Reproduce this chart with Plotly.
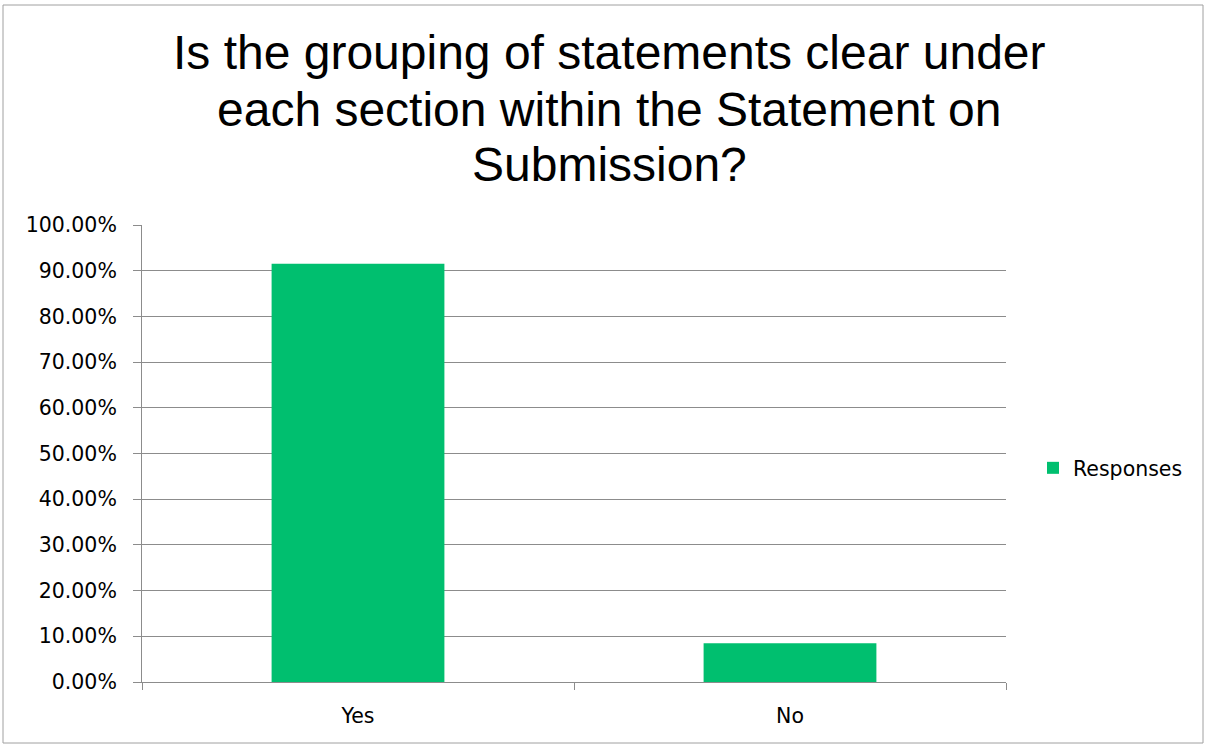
import plotly.graph_objects as go

# Survey answers and share of respondents
categories = ["Yes", "No"]
responses = [0.9153, 0.0847]
y_ticks = [0.0, 0.1, 0.2, 0.3, 0.4, 0.5, 0.6, 0.7, 0.8, 0.9, 1.0]

title_lines = [
    "Is the grouping of statements clear under",
    "each section within the Statement on",
    "Submission?",
]

W, H = 1205, 744
L, R, T, B = 142, 199, 225, 62
pw, ph = W - L - R, H - T - B


def px_x(x):
    return (x - L) / pw


def px_y(y):
    return (H - B - y) / ph


fig = go.Figure()
fig.add_trace(go.Bar(
    x=categories, y=responses, name="Responses",
    marker=dict(color="#00BF6F", line=dict(width=0)),
    width=0.4,
))

grid = "#8C8C8C"
tick_font = dict(family="DejaVu Sans, sans-serif", size=20.5, color="#000000")

# Title drawn line by line for tight line spacing
title_annotations = [
    dict(text=line, xref="paper", yref="paper",
         x=px_x(609), y=px_y(yc), xanchor="center", yanchor="middle",
         showarrow=False,
         font=dict(family="Liberation Sans, Arial, sans-serif", size=48, color="#000000"))
    for line, yc in zip(title_lines, [53, 109, 164])
]

fig.update_layout(
    width=W, height=H,
    margin=dict(l=L, r=R, t=T, b=B, pad=0),
    paper_bgcolor="white", plot_bgcolor="white",
    showlegend=True,
    legend=dict(x=px_x(1033), y=px_y(468), xanchor="left", yanchor="middle",
                font=tick_font, bgcolor="rgba(0,0,0,0)",
                itemwidth=30),
    yaxis=dict(range=[0, 1.0001], tickvals=y_ticks, tickformat=".2%",
               showgrid=True, gridcolor=grid, gridwidth=1,
               showline=True, linecolor=grid, linewidth=1,
               ticks="outside", ticklen=8, tickcolor=grid,
               ticklabelstandoff=12,
               zeroline=False, tickfont=tick_font, fixedrange=True),
    xaxis=dict(showline=True, linecolor=grid, linewidth=1,
               ticks="outside", ticklen=7, tickcolor=grid,
               tickson="boundaries", tickfont=tick_font,
               ticklabelstandoff=15,
               showgrid=False, zeroline=False),
    bargap=0.6,
    annotations=title_annotations,
    shapes=[dict(
        type="rect", xref="paper", yref="paper",
        x0=px_x(3), x1=px_x(1203), y0=px_y(743), y1=px_y(5),
        line=dict(color="#A0A0A0", width=1), fillcolor="rgba(0,0,0,0)", layer="below",
    )],
)

fig.write_html("out.html")
